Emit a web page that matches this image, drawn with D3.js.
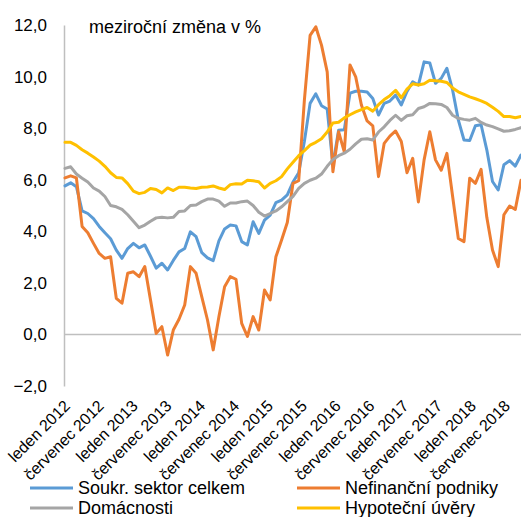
<!DOCTYPE html>
<html><head><meta charset="utf-8">
<script src="https://cdn.jsdelivr.net/npm/d3@7"></script>
<style>html,body{margin:0;padding:0;background:#fff;}svg{display:block;font-family:"Liberation Sans",Arial,sans-serif;}</style>
</head><body>
<svg id="c" width="521" height="517"></svg>
<script>
const monthNames = ["leden","únor","březen","duben","květen","červen","červenec","srpen","září","říjen","listopad","prosinec"];
const startYear = 2012, nMonths = 81;
const months = d3.range(nMonths).map(i => monthNames[i % 12] + " " + (startYear + Math.floor(i / 12)));
const tickLabels = months.filter((m, i) => i % 6 === 0);
const yTicks = [-2, 0, 2, 4, 6, 8, 10, 12];
const seriesNames = ["Soukr. sektor celkem", "Nefinanční podniky", "Domácnosti", "Hypoteční úvěry"];
const seriesColors = ["#5B9BD5", "#ED7D31", "#A5A5A5", "#FFC000"];

const soukr = [5.76,5.88,5.73,4.79,4.69,4.49,4.19,3.94,3.71,3.27,2.95,3.33,3.53,3.36,3.47,3.03,2.57,2.76,2.5,2.87,
3.2,3.33,3.98,3.79,3.17,2.97,2.86,3.63,4.09,4.24,4.21,3.6,3.47,4.37,3.92,4.43,4.63,5.11,5.21,5.41,
5.91,6.27,7.49,8.96,9.33,8.87,8.74,6.57,7.92,7.94,9.36,9.43,9.43,9.4,9.15,8.51,8.96,9.05,9.28,8.9,
9.42,9.8,9.67,10.57,10.53,9.74,9.93,10.32,9.48,8.32,7.54,7.52,8.09,8.13,7.16,5.93,5.6,6.58,6.74,6.53,6.96];
const nefin = [6.07,6.15,6.07,4.19,3.94,3.53,3.14,2.95,3.01,1.4,1.21,2.37,2.43,2.24,2.63,1.34,0.04,0.3,-0.8,0.17,
0.59,1.14,2.63,2.37,1.46,0.56,-0.6,0.69,1.85,2.24,2.14,0.43,-0.08,0.69,0.17,1.72,1.34,3.01,3.66,4.34,
5.86,5.96,9.1,11.6,11.93,11.22,10.18,6.31,7.86,7.08,10.45,9.99,8.9,8.28,8.09,6.12,7.41,7.69,7.89,7.48,
6.27,6.83,5.14,6.77,7.86,6.77,6.37,7.02,5.36,3.72,3.6,6.06,5.86,6.4,4.54,3.27,2.63,4.64,4.98,4.85,5.98];
const domac = [6.44,6.5,6.22,6.06,5.91,5.68,5.56,5.35,5.0,4.95,4.85,4.64,4.39,4.14,4.24,4.39,4.52,4.54,4.52,4.54,
4.77,4.79,5.0,5.02,5.15,5.25,5.25,5.17,4.97,5.1,5.1,5.15,5.17,5.0,4.74,4.59,4.69,4.79,4.95,5.15,
5.35,5.66,5.86,5.98,6.06,6.22,6.52,6.78,6.93,7.03,7.18,7.39,7.57,7.59,7.54,7.85,8.05,8.3,8.5,8.3,
8.48,8.52,8.76,8.83,8.96,8.95,8.92,8.8,8.5,8.38,8.34,8.31,8.38,8.22,8.12,8.06,7.97,7.88,7.9,7.95,8.02];
const hypo = [7.45,7.45,7.33,7.16,7.03,6.88,6.72,6.52,6.27,6.09,6.07,5.85,5.56,5.46,5.51,5.66,5.62,5.49,5.68,5.58,
5.71,5.71,5.68,5.66,5.71,5.72,5.76,5.68,5.62,5.81,5.84,5.83,5.98,5.96,5.92,5.68,5.86,5.96,6.12,6.42,
6.68,6.93,7.13,7.34,7.45,7.59,7.85,8.2,8.23,8.4,8.52,8.63,8.72,8.8,8.66,8.91,9.11,9.26,9.47,9.18,
9.51,9.72,9.67,9.72,9.86,9.84,9.82,9.77,9.56,9.41,9.31,9.21,9.14,9.06,8.96,8.81,8.65,8.45,8.45,8.4,8.45];

const allSeries = [soukr, nefin, domac, hypo];

const svg = d3.select("#c");
svg.append("rect").attr("width", 521).attr("height", 517).attr("fill", "#fff");

const x = d3.scalePoint().domain(months).range([65, 521]);
const y = d3.scaleLinear().domain([-2, 12]).range([386, 25]);
// category label anchor positions (rotated labels end here)
const xl = d3.scalePoint().domain(tickLabels).range([71, 511]);

// y axis
const yAxis = d3.axisLeft(y).tickValues(yTicks).tickSize(0).tickPadding(17)
  .tickFormat(d => d3.format(".1f")(d).replace(".", ","));
const gy = svg.append("g").attr("transform", "translate(64,0)").call(yAxis);
gy.select(".domain").attr("stroke", "#BFBFBF").attr("stroke-width", 1.5);
gy.selectAll("text").attr("font-size", 17).attr("fill", "#000").attr("font-family", "Liberation Sans, Arial, sans-serif");

// zero line
svg.append("line").attr("x1", 64).attr("x2", 521).attr("y1", y(0)).attr("y2", y(0))
  .attr("stroke", "#BFBFBF").attr("stroke-width", 1.5);

// x labels
const gx = svg.append("g");
gx.selectAll("text").data(tickLabels).join("text")
  .attr("transform", d => `translate(${xl(d)},${y(-2) + 21}) rotate(-45)`)
  .attr("text-anchor", "end")
  .attr("font-size", 16)
  .attr("fill", "#000")
  .text(d => d);

// lines
const line = d3.line().x((d, i) => x(months[i])).y(d => y(d));
allSeries.forEach((s, k) => {
  svg.append("path").datum(s).attr("d", line).attr("fill", "none")
    .attr("stroke", seriesColors[k]).attr("stroke-width", 3)
    .attr("stroke-linejoin", "round").attr("stroke-linecap", "round");
});

// title
svg.append("text").attr("x", 89).attr("y", 33).attr("font-size", 18).attr("fill", "#000")
  .text("meziroční změna v %");

// legend
const legPos = [[30, 488], [297, 488], [30, 508], [297, 508]];
seriesNames.forEach((n, k) => {
  const [lx, ly] = legPos[k];
  svg.append("line").attr("x1", lx).attr("x2", lx + 43).attr("y1", ly).attr("y2", ly)
    .attr("stroke", seriesColors[k]).attr("stroke-width", 3);
  svg.append("text").attr("x", lx + 48).attr("y", ly).attr("dy", "0.35em")
    .attr("font-size", 18).attr("fill", "#000").text(n);
});
</script>
</body></html>
